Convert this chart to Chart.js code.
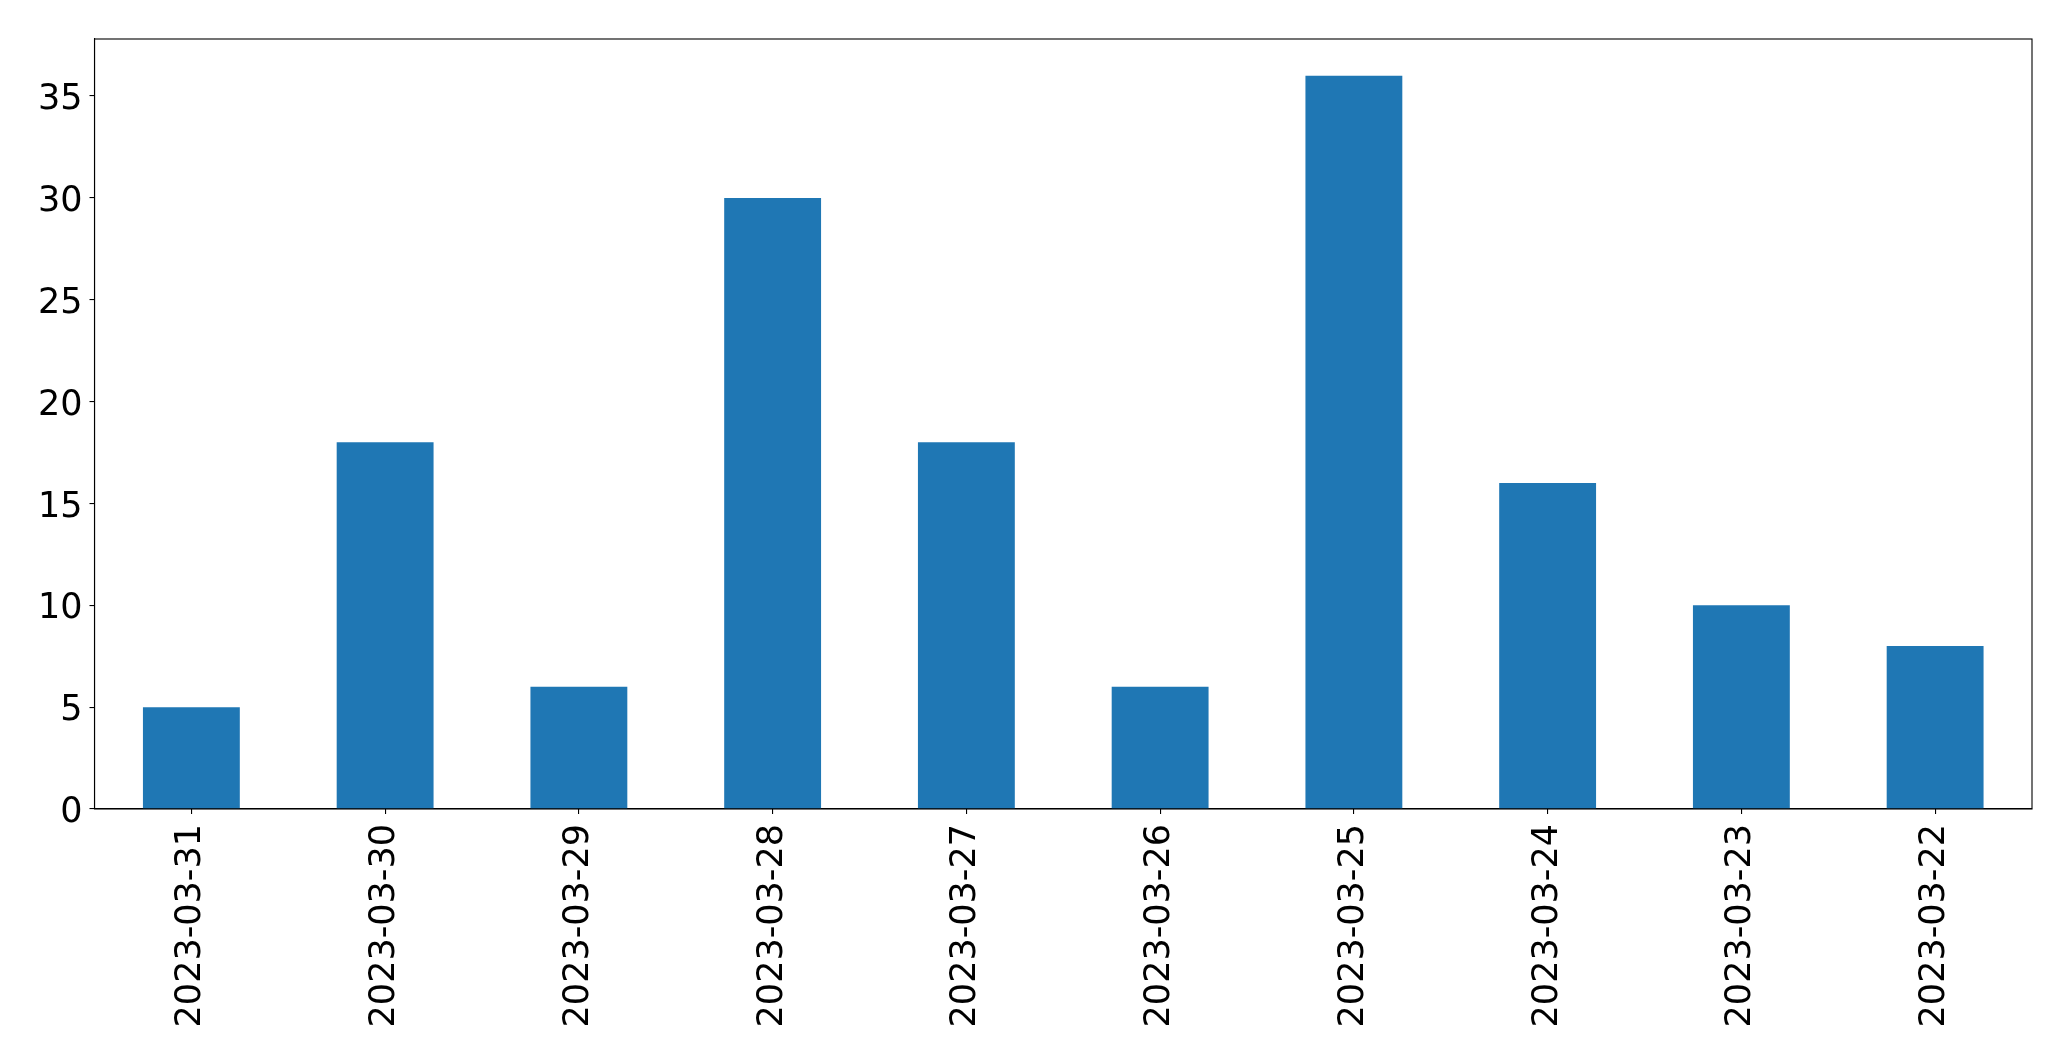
<!DOCTYPE html>
<html>
<head>
<meta charset="utf-8">
<script src="https://cdn.jsdelivr.net/npm/chart.js@4"></script>
<style>
  html, body { margin: 0; padding: 0; background: #fff; }
  #wrap { width: 2071px; height: 1061px; }
</style>
</head>
<body>
<div id="wrap"><canvas id="myChart"></canvas></div>
<script>
const dates = ['2023-03-31', '2023-03-30', '2023-03-29', '2023-03-28', '2023-03-27',
               '2023-03-26', '2023-03-25', '2023-03-24', '2023-03-23', '2023-03-22'];
const counts = [5, 18, 6, 30, 18, 6, 36, 16, 10, 8];
const yTicks = [0, 5, 10, 15, 20, 25, 30, 35];

// box round the plot area, like matplotlib's spines
const frame = {
    id: 'frame',
    afterDraw(chart) {
        const { ctx, chartArea: a } = chart;
        ctx.save();
        ctx.strokeStyle = '#000';
        ctx.lineWidth = 1.1;
        ctx.strokeRect(a.left, a.top, a.right - a.left, a.bottom - a.top);
        ctx.restore();
    }
};

const font = { family: 'DejaVu Sans', size: 35 };

const ctx = document.getElementById('myChart').getContext('2d');
const myChart = new Chart(ctx, {
    type: 'bar',
    data: {
        labels: dates,
        datasets: [{
            data: counts,
            backgroundColor: '#1f77b4',
            borderWidth: 0,
            categoryPercentage: 0.5,
            barPercentage: 1.0
        }]
    },
    options: {
        responsive: true,
        maintainAspectRatio: false,
        animation: false,
        layout: { padding: { top: 39, right: 39, left: 0, bottom: 0 } },
        plugins: {
            legend: { display: false },
            tooltip: { enabled: false }
        },
        scales: {
            x: {
                offset: true,
                grid: { offset: false, drawOnChartArea: false, drawTicks: true, tickLength: 5, color: '#000', lineWidth: 1.1 },
                border: { display: true, color: '#000', width: 1.1 },
                ticks: { color: '#000', font: font, minRotation: 90, maxRotation: 90, padding: 10, autoSkip: false },
                afterFit(scale) { scale.height = 252; }
            },
            y: {
                min: 0,
                max: 37.8,
                grid: { drawOnChartArea: false, drawTicks: true, tickLength: 5, color: '#000', lineWidth: 1.1 },
                border: { display: true, color: '#000', width: 1.1 },
                ticks: { color: '#000', font: font, stepSize: 5, padding: 7, labelOffset: 4 },
                afterBuildTicks(scale) {
                    scale.ticks = yTicks.map(v => ({ value: v }));
                },
                afterFit(scale) { scale.width = 94.5; }
            }
        }
    },
    plugins: [frame]
});
</script>
</body>
</html>
